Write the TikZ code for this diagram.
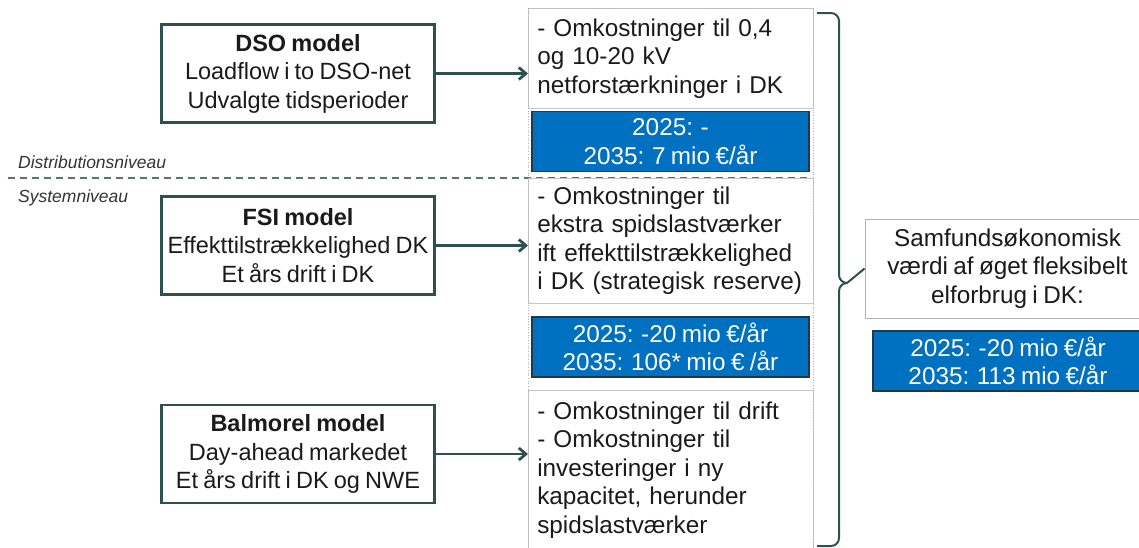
\documentclass[tikz,border=0pt]{standalone}
\usepackage{fontspec}
\setmainfont{Liberation Sans}[WordSpace=0.8]
\usetikzlibrary{arrows.meta, positioning, calc}
\definecolor{slate}{RGB}{47,80,82}
\definecolor{fillblue}{RGB}{0,112,192}
\definecolor{edgeblue}{RGB}{32,56,72}
\definecolor{txt}{RGB}{26,26,26}
\newcommand{\lfont}{\fontsize{23.5}{28.5}\selectfont}
\newcommand{\mfont}{\fontsize{24.3}{28.5}\selectfont}
\newcommand{\sfont}{\fontsize{17.5}{20}\selectfont\itshape}
\tikzset{
  model/.style={draw=slate, line width=2.8pt, fill=white, minimum width=273pt,
    minimum height=98pt, align=center, font=\lfont, text=txt, inner sep=0pt},
  cost/.style={draw=gray!45, line width=0.6pt, text width=267pt, align=left,
    font=\mfont, text=txt, inner xsep=9pt, inner ysep=0pt, anchor=north west},
  value/.style={draw=edgeblue, line width=1.2pt, fill=fillblue, text=white,
    minimum width=277pt, minimum height=60pt, align=center, font=\mfont, inner sep=0pt},
  feed/.style={draw=slate, line width=2.8pt, -{Straight Barb[length=7pt,width=12pt]}},
  level/.style={font=\sfont, text=black!80, anchor=west, inner sep=0pt},
}
\begin{document}
\begin{tikzpicture}[x=1pt, y=-1pt]
\useasboundingbox (0,0) rectangle (1139,547);
% level labels and divider
\node[level] (distlbl) at (18,162) {Distributionsniveau};
\node[level] (syslbl) at (18,198) {Systemniveau};
\coordinate (divl) at (8,178);
\coordinate (divr) at (808,178);
\draw[slate!80, line width=1.3pt, dash pattern=on 7pt off 5pt] (divl) -- (divr);
% models
\node[model] (dso) at (298,73.5) {\textbf{DSO model}\\Loadflow i to DSO-net\\Udvalgte tidsperioder};
\node[model] (fsi) at (298,245.5) {\textbf{FSI model}\\Effekttilstrækkelighed DK\\Et års drift i DK};
\node[model] (bal) at (298,454) {\textbf{Balmorel model}\\Day-ahead markedet\\Et års drift i DK og NWE};
% cost column
\node[cost, minimum height=100pt] (c1) at (528,8) {- Omkostninger til 0,4\\og 10-20 kV\\netforstærkninger i DK};
\node[value] (v1) at (670.5,141.5) {2025: -\\2035: 7 mio €/år};
\node[cost, minimum height=125pt] (c2) at (528,178) {- Omkostninger til\\ekstra spidslastværker\\ift effekttilstrækkelighed\\i DK (strategisk reserve)};
\node[value] (v2) at (670.5,347) {2025: -20 mio €/år\\2035: 106* mio € /år};
\node[cost, minimum height=159pt] (c3) at (528,390) {- Omkostninger til drift\\- Omkostninger til\\investeringer i ny\\kapacitet, herunder\\spidslastværker};
\draw[gray!60, dotted, line width=0.7pt] (c1.north west) rectangle ($(c3.south east)+(0,12)$);
% arrows
\draw[feed] (dso.east) -- (dso.east -| c1.west);
\draw[feed] (fsi.east) -- (fsi.east -| c2.west);
\draw[feed] (bal.east) -- (bal.east -| c3.west);
% result
\node[draw=gray!60, line width=0.8pt, fill=white, minimum width=285pt, minimum height=99pt,
  align=center, font=\mfont, text=txt, inner sep=0pt] (samf) at (1007.5,268.5)
  {Samfundsøkonomisk\\værdi af øget fleksibelt\\elforbrug i DK:};
\node[value, minimum width=270pt] (vt) at (1008,361) {2025: -20 mio €/år\\2035: 113 mio €/år};
% brace
\coordinate (bt) at (817,13);
\coordinate (bb) at (817,546);
\coordinate (bm) at (839,283);
\draw[slate, line width=2pt, line join=round]
  (bt) -- ++(14,0) to[out=0,in=90] ++(8,8) -- ($(bm)+(0,-8)$) to[out=-90,in=180] ($(bm)+(8,0)$) -- (samf.west);
\draw[slate, line width=2pt, line join=round]
  (bb) -- ++(14,0) to[out=0,in=-90] ++(8,-8) -- ($(bm)+(0,8)$) to[out=90,in=180] ($(bm)+(8,0)$);
\end{tikzpicture}
\end{document}
